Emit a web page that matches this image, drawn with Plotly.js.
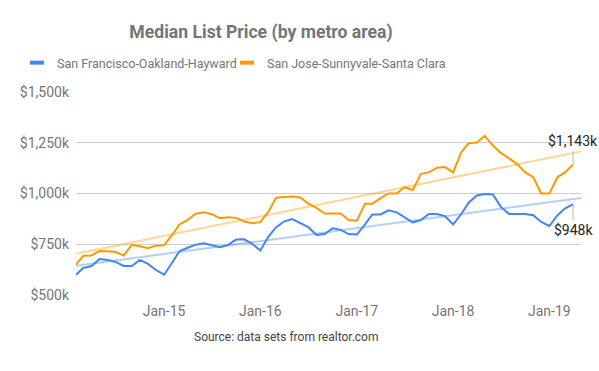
<!DOCTYPE html>
<html>
<head>
<meta charset="utf-8">
<script src="https://cdn.plot.ly/plotly-3.0.1.min.js"></script>
<style>html,body{margin:0;padding:0;background:#fff;}#chart{width:599px;height:371px;}</style>
</head>
<body>
<div id="chart"></div>
<script>
// Months (first of month)
const months = [
  '2014-02-01','2014-03-01','2014-04-01','2014-05-01','2014-06-01','2014-07-01','2014-08-01','2014-09-01','2014-10-01','2014-11-01','2014-12-01',
  '2015-01-01','2015-02-01','2015-03-01','2015-04-01','2015-05-01','2015-06-01','2015-07-01','2015-08-01','2015-09-01','2015-10-01','2015-11-01','2015-12-01',
  '2016-01-01','2016-02-01','2016-03-01','2016-04-01','2016-05-01','2016-06-01','2016-07-01','2016-08-01','2016-09-01','2016-10-01','2016-11-01','2016-12-01',
  '2017-01-01','2017-02-01','2017-03-01','2017-04-01','2017-05-01','2017-06-01','2017-07-01','2017-08-01','2017-09-01','2017-10-01','2017-11-01','2017-12-01',
  '2018-01-01','2018-02-01','2018-03-01','2018-04-01','2018-05-01','2018-06-01','2018-07-01','2018-08-01','2018-09-01','2018-10-01','2018-11-01','2018-12-01',
  '2019-01-01','2019-02-01','2019-03-01','2019-04-01'
];
// Median list price, thousands of USD
const sanFrancisco = [
  600,633,643,677,673,663,643,643,673,653,623,
  600,660,717,733,748,755,745,735,747,773,774,752,
  719,788,834,863,874,854,834,796,800,829,821,800,
  798,848,897,897,917,907,882,858,869,899,899,889,
  847,899,955,990,998,995,934,899,899,899,893,860,
  840,893,926,948
];
const sanJose = [
  650,693,695,717,715,712,695,747,740,730,743,
  745,797,848,870,900,907,898,878,883,880,862,854,
  859,911,979,983,985,980,950,929,901,901,901,869,
  866,950,950,977,1000,1000,1031,1017,1097,1104,1127,1130,
  1104,1203,1248,1251,1284,1236,1200,1173,1145,1104,1081,1000,
  1000,1081,1104,1143
];
const seriesNames = ['San Francisco-Oakland-Hayward', 'San Jose-Sunnyvale-Santa Clara'];
const xRange = ['2014-02-01', '2019-05-01'];
const tickYears = ['2015-01-01','2016-01-01','2017-01-01','2018-01-01','2019-01-01'];
const tickLabels = ['Jan-15','Jan-16','Jan-17','Jan-18','Jan-19'];

const BLUE = '#4285F4', ORANGE = '#FF9900';

function trend(xs, ys, ends) {
  const t = xs.map(d => new Date(d).getTime());
  const n = t.length;
  const mx = t.reduce((a,b)=>a+b,0)/n, my = ys.reduce((a,b)=>a+b,0)/n;
  let sxy = 0, sxx = 0;
  for (let i=0;i<n;i++){ sxy += (t[i]-mx)*(ys[i]-my); sxx += (t[i]-mx)*(t[i]-mx); }
  const b = sxy/sxx, a = my - b*mx;
  return ends.map(d => a + b*new Date(d).getTime());
}

const font = 'Roboto, Arial, sans-serif';
const traces = [
  {x: xRange, y: trend(months, sanFrancisco, xRange), mode:'lines', line:{color:BLUE, width:2}, opacity:0.4, showlegend:false, hoverinfo:'skip'},
  {x: xRange, y: trend(months, sanJose, xRange), mode:'lines', line:{color:ORANGE, width:2}, opacity:0.4, showlegend:false, hoverinfo:'skip'},
  {x: months, y: sanFrancisco, mode:'lines', line:{color:BLUE, width:2}, name:seriesNames[0], showlegend:false},
  {x: months, y: sanJose, mode:'lines', line:{color:ORANGE, width:2}, name:seriesNames[1], showlegend:false},
  {x:[null], y:[null], mode:'markers', name:seriesNames[0], legend:'legend',
   marker:{symbol:'line-ew-open', size:10, color:BLUE, line:{width:4, color:BLUE}}},
  {x:[null], y:[null], mode:'markers', name:seriesNames[1], legend:'legend2',
   marker:{symbol:'line-ew-open', size:10, color:ORANGE, line:{width:4, color:ORANGE}}}
];

const legendFont = {family:font, size:12.5, color:'#757575'};
const lastI = months.length - 1;
const pw = 599-76-18, ph = 371-92-76;
const layout = {
  width: 599, height: 371,
  margin: {l:76, r:18, t:92, b:76},
  paper_bgcolor:'#fff', plot_bgcolor:'#fff',
  font: {family: font, size: 14, color:'#757575'},
  title: {text:'Median List Price (by metro area)', font:{family:font, size:17.6, color:'#757575', weight:'bold'},
          x: 261/599, xanchor:'center', xref:'container', y: 1-32/371, yanchor:'middle', yref:'container'},
  showlegend: true,
  legend: {orientation:'h', xref:'container', yref:'container', x: 17/599, xanchor:'left', y: 1-63/371, yanchor:'middle',
           font:legendFont, bgcolor:'rgba(0,0,0,0)'},
  legend2: {orientation:'h', xref:'container', yref:'container', x: 227/599, xanchor:'left', y: 1-63/371, yanchor:'middle',
           font:legendFont, bgcolor:'rgba(0,0,0,0)'},
  xaxis: {type:'date', range: xRange, tickvals: tickYears, ticktext: tickLabels, showgrid:false, zeroline:false, showline:false,
          ticks:'', ticklabelstandoff: 6, tickfont:{family:font, size:14, color:'#757575'}, fixedrange:true},
  yaxis: {range:[500,1500], dtick:250, tick0:500, tickprefix:'$', ticksuffix:'k', separatethousands:true, tickformat:',d',
          gridcolor:'#cccccc', gridwidth:1, zeroline:false, showline:false, ticks:'', ticklabelstandoff: 6,
          tickfont:{family:font, size:14, color:'#757575'}, fixedrange:true},
  annotations: [
    {x: months[lastI], y: sanJose[lastI], xref:'x', yref:'y', text:'$' + sanJose[lastI].toLocaleString('en-US') + 'k',
     showarrow:true, arrowhead:0, arrowwidth:1, arrowcolor:'#bbbbbb', ax:0, ay:-23, font:{family:font, size:14, color:'#222'}},
    {x: months[lastI], y: sanFrancisco[lastI], xref:'x', yref:'y', text:'$' + sanFrancisco[lastI] + 'k',
     showarrow:true, arrowhead:0, arrowwidth:1, arrowcolor:'#bbbbbb', ax:0, ay:26, font:{family:font, size:14, color:'#222'}},
    {x: (286-76)/pw, y: (371-76-337)/ph, xref:'paper', yref:'paper', text:'Source: data sets from realtor.com', showarrow:false,
     xanchor:'center', yanchor:'middle', font:{family:font, size:12, color:'#444'}}
  ]
};

Plotly.newPlot('chart', traces, layout, {displayModeBar:false, staticPlot:true});
</script>
</body>
</html>
